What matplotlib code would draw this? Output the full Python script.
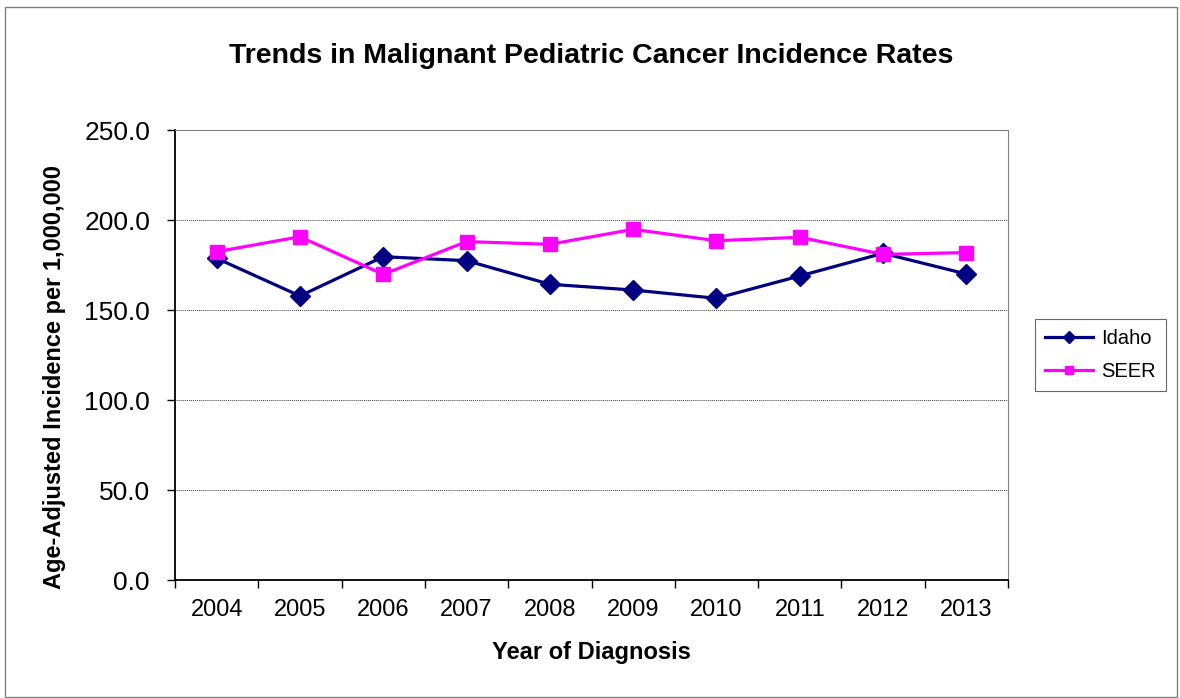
import matplotlib
matplotlib.use("Agg")
import matplotlib.pyplot as plt
from matplotlib.patches import Rectangle

years = ["2004", "2005", "2006", "2007", "2008", "2009", "2010", "2011", "2012", "2013"]
idaho = [178.7, 157.8, 179.6, 177.4, 164.3, 161.1, 156.5, 168.9, 181.5, 170.0]
seer = [182.4, 190.7, 169.8, 188.0, 186.5, 194.8, 188.5, 190.4, 180.9, 181.9]

plt.rcParams['font.family'] = ['Liberation Sans', 'DejaVu Sans']

fig = plt.figure(figsize=(11.8, 6.98), dpi=100)
fig.patches.append(Rectangle((5 / 1180, 1 / 698), 1172 / 1180, 690 / 698,
                             transform=fig.transFigure, fill=False,
                             edgecolor='#808080', linewidth=1))
ax = fig.add_axes([175 / 1180, 118 / 698, 833 / 1180, 450 / 698])

x = list(range(len(years)))
ax.plot(x, idaho, color='#000080', marker='D', markersize=10, linewidth=2.3, label='Idaho')
ax.plot(x, seer, color='#FF00FF', marker='s', markersize=10.5, linewidth=2.3, label='SEER')

ax.set_xlim(-0.5, len(years) - 0.5)
ax.set_ylim(0, 250)
ax.set_yticks([0, 50, 100, 150, 200, 250])
ax.set_yticklabels(["%.1f" % v for v in [0, 50, 100, 150, 200, 250]], fontsize=19)
ax.set_xticks(x)
ax.set_xticklabels(years, fontsize=17)
ax.set_xticks([i - 0.5 for i in range(len(years) + 1)], minor=True)
ax.tick_params(axis='x', which='major', length=0, pad=14)
ax.tick_params(axis='x', which='minor', length=6, direction='out', width=1)
ax.tick_params(axis='y', length=6, direction='out', width=1, pad=12)

ax.yaxis.grid(True, linestyle=(0, (1, 1)), color='#404040', linewidth=0.7)
ax.set_axisbelow(True)
for s in ['top', 'right']:
    ax.spines[s].set_color('#808080')
for s in ['left', 'bottom']:
    ax.spines[s].set_color('black')
    ax.spines[s].set_linewidth(1.3)

ax.set_title("Trends in Malignant Pediatric Cancer Incidence Rates", fontsize=20.5,
             fontweight='bold', pad=48)
ax.set_xlabel("Year of Diagnosis", fontsize=17, fontweight='bold', labelpad=14)
ax.set_ylabel("Age-Adjusted Incidence per 1,000,000", fontsize=17, fontweight='bold')
ax.yaxis.set_label_coords(-0.131, 0.451)

leg = ax.legend(loc='center left', bbox_to_anchor=(1.02, 0.5), fontsize=14.5,
                frameon=True, fancybox=False, edgecolor='#404040', markerscale=0.6,
                handlelength=2.4, handletextpad=0.4, borderpad=0.5, labelspacing=0.7)
leg.get_frame().set_linewidth(0.8)

fig.savefig("out.png", dpi=100)
